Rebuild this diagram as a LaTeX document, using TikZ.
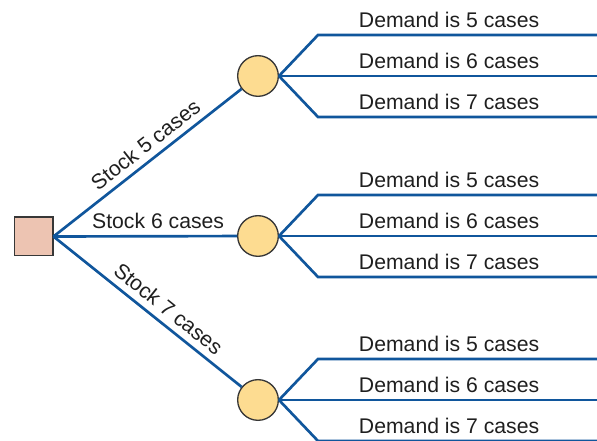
\documentclass[tikz,border=0pt]{standalone}
\usepackage{fontspec}
\setmainfont{Liberation Sans}
\usepackage{xcolor}
\usetikzlibrary{positioning}
\definecolor{treeblue}{RGB}{16,86,156}
\definecolor{decfill}{RGB}{237,196,178}
\definecolor{chancefill}{RGB}{253,220,145}
\definecolor{edgegray}{RGB}{55,55,55}

\begin{document}
\begin{tikzpicture}[
    x=0.75pt, y=-0.75pt,
    branch/.style={draw=treeblue, line width=2pt},
    decision/.style={draw=edgegray, fill=decfill, line width=1pt,
        minimum size=29pt, inner sep=0pt},
    chance/.style={circle, draw=edgegray, fill=chancefill, line width=1pt,
        minimum size=30.5pt, inner sep=0pt},
    lbl/.style={font=\fontsize{15.9}{19}\selectfont, text=black!88}
]
\useasboundingbox (0,0) rectangle (597,441);

% decision and chance nodes
\node[decision] (stock) at (33.5,236.5) {};
\node[chance] (c5) at (258,76) {};
\node[chance] (c6) at (258,236) {};
\node[chance] (c7) at (258,400) {};

% stock branches
\draw[branch] (stock.east) -- node[lbl, sloped, above=1.5pt, pos=0.54] {Stock 5 cases} (c5);
\draw[branch] (stock.east) -- node[lbl, above=1.5pt, pos=0.57] {Stock 6 cases} (c6);
\draw[branch] (stock.east) -- node[lbl, sloped, above=1.5pt, pos=0.56] {Stock 7 cases} (c7);

% demand branches
\foreach \c/\y in {c5/76, c6/236, c7/400} {
  \foreach \d/\dy in {5/-41, 6/0, 7/41} {
    \coordinate (\c k\d) at (318,\y+\dy);
    \coordinate (\c e\d) at (597,\y+\dy);
    \draw[branch] (\c.east) -- (\c k\d) -- node[lbl, above=1pt, pos=0.47] {Demand is \d\ cases} (\c e\d);
  }
}
\end{tikzpicture}
\end{document}
